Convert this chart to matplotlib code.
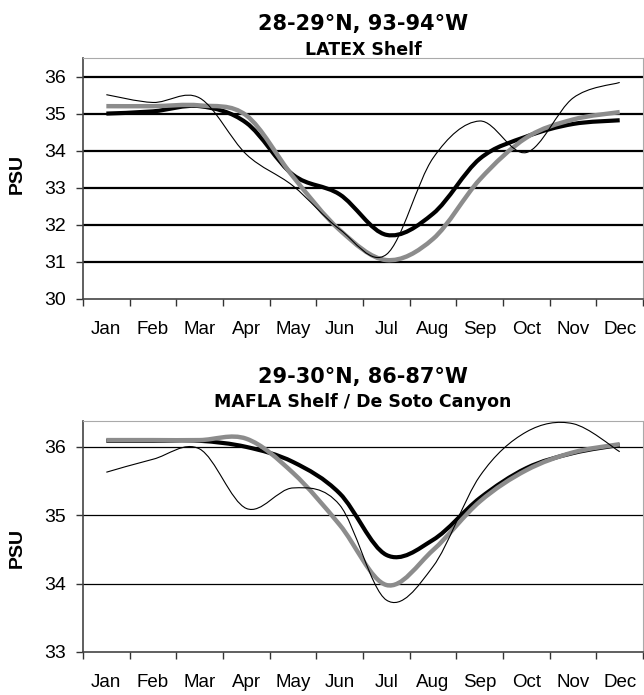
import matplotlib
matplotlib.use("Agg")
import matplotlib.pyplot as plt
from matplotlib.path import Path
from matplotlib.patches import PathPatch

plt.rcParams['font.family'] = ['Liberation Sans', 'DejaVu Sans']

months = ["Jan", "Feb", "Mar", "Apr", "May", "Jun",
          "Jul", "Aug", "Sep", "Oct", "Nov", "Dec"]

# LATEX Shelf, 28-29N 93-94W
latex_thin = [35.51, 35.30, 35.42, 33.90, 33.05, 31.88, 31.20, 33.80, 34.80, 33.95, 35.42, 35.84]
latex_black = [35.00, 35.06, 35.20, 34.75, 33.35, 32.82, 31.73, 32.30, 33.78, 34.38, 34.72, 34.82]
latex_gray = [35.20, 35.20, 35.22, 34.95, 33.30, 31.86, 31.05, 31.62, 33.22, 34.35, 34.84, 35.04]

# MAFLA Shelf / De Soto Canyon, 29-30N 86-87W
mafla_thin = [35.63, 35.82, 35.97, 35.10, 35.40, 35.15, 33.76, 34.25, 35.57, 36.22, 36.34, 35.93]
mafla_black = [36.09, 36.09, 36.09, 36.00, 35.78, 35.32, 34.42, 34.64, 35.25, 35.69, 35.91, 36.03]
mafla_gray = [36.10, 36.10, 36.10, 36.12, 35.62, 34.86, 33.98, 34.49, 35.20, 35.66, 35.92, 36.04]


def smooth_path(xs, ys):
    # Excel-style smoothed line: cubic bezier through every point
    n = len(xs)
    verts = [(xs[0], ys[0])]
    codes = [Path.MOVETO]
    for i in range(n - 1):
        x0, y0 = (xs[i - 1], ys[i - 1]) if i > 0 else (xs[i], ys[i])
        x1, y1 = xs[i], ys[i]
        x2, y2 = xs[i + 1], ys[i + 1]
        x3, y3 = (xs[i + 2], ys[i + 2]) if i + 2 < n else (x2, y2)
        verts += [(x1 + (x2 - x0) / 6, y1 + (y2 - y0) / 6),
                  (x2 - (x3 - x1) / 6, y2 - (y3 - y1) / 6),
                  (x2, y2)]
        codes += [Path.CURVE4] * 3
    return Path(verts, codes)


def draw_panel(ax, title, subtitle, thin, black, gray, ylim, yticks, grid_lw,
               title_y, sub_y, psu_y):
    xs = [i + 0.5 for i in range(len(months))]
    ax.set_xlim(0, 12)
    ax.set_ylim(*ylim)
    ax.set_yticks(yticks)
    ax.set_yticklabels([str(t) for t in yticks])
    for t in yticks[1:]:
        ax.axhline(t, color='black', lw=grid_lw, zorder=1)

    ax.add_patch(PathPatch(smooth_path(xs, black), fill=False, edgecolor='black',
                           lw=3.0, capstyle='butt', zorder=3))
    ax.add_patch(PathPatch(smooth_path(xs, gray), fill=False, edgecolor='#8c8c8c',
                           lw=3.2, capstyle='butt', zorder=4))
    ax.add_patch(PathPatch(smooth_path(xs, thin), fill=False, edgecolor='black',
                           lw=0.8, zorder=5))

    ax.set_xticks(range(13))
    ax.set_xticklabels([])
    ax.set_xticks(xs, minor=True)
    ax.set_xticklabels(months, minor=True)
    ax.tick_params(axis='x', which='major', direction='out', length=5, width=1, color='#333333')
    ax.tick_params(axis='x', which='minor', length=0, pad=16, labelsize=13.5)
    ax.tick_params(axis='y', direction='out', length=5, width=1, color='#333333',
                   pad=7, labelsize=14)
    ax.set_ylabel("PSU", fontsize=14, fontweight='bold', va='center')
    ax.yaxis.set_label_coords(-0.118, psu_y)

    for side in ('left', 'bottom'):
        ax.spines[side].set_color('#444444')
        ax.spines[side].set_linewidth(1.2)
    for side in ('top', 'right'):
        ax.spines[side].set_color('#aaaaaa')
        ax.spines[side].set_linewidth(0.8)

    ax.text(0.5, title_y, title, transform=ax.transAxes, ha='center', va='baseline',
            fontsize=15, fontweight='bold', family='DejaVu Sans')
    ax.text(0.5, sub_y, subtitle, transform=ax.transAxes, ha='center', va='baseline',
            fontsize=12.5, fontweight='bold', family='DejaVu Sans')


fig = plt.figure(figsize=(6.44, 6.95), dpi=100)
ax1 = fig.add_axes([0.1289, 0.5698, 0.8696, 0.3468])
ax2 = fig.add_axes([0.1289, 0.0619, 0.8696, 0.3324])

draw_panel(ax1, "28-29°N, 93-94°W", "LATEX Shelf",
           latex_thin, latex_black, latex_gray, (30, 36.5), [30, 31, 32, 33, 34, 35, 36], 1.6,
           1.116, 1.012, 0.52)
draw_panel(ax2, "29-30°N, 86-87°W", "MAFLA Shelf / De Soto Canyon",
           mafla_thin, mafla_black, mafla_gray, (33, 36.38), [33, 34, 35, 36], 0.9,
           1.165, 1.06, 0.45)

fig.savefig("out.png", dpi=100)
